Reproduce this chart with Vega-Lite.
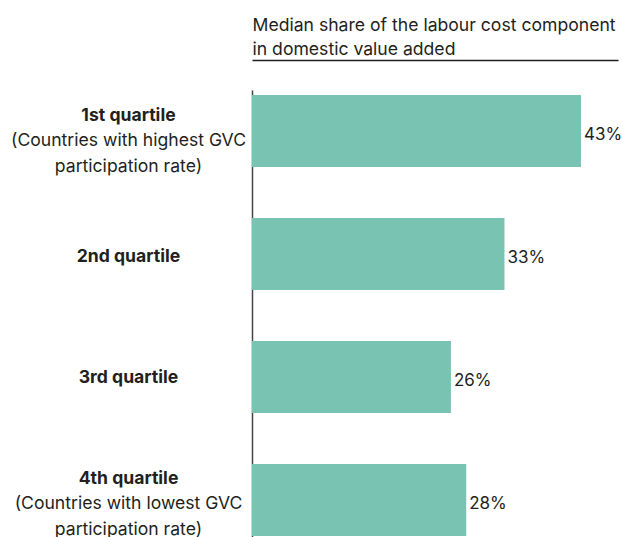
{
  "$schema": "https://vega.github.io/schema/vega-lite/v6.json",
  "width": 366,
  "height": 447,
  "autosize": {"type": "none"},
  "padding": {"left": 252, "top": 90, "right": 5, "bottom": 0},
  "background": "white",
  "config": {"view": {"stroke": null}, "font": "Inter"},
  "data": {
    "values": [
      {"quartile": "1st quartile", "share": 43, "label": "43%"},
      {"quartile": "2nd quartile", "share": 33, "label": "33%"},
      {"quartile": "3rd quartile", "share": 26, "label": "26%"},
      {"quartile": "4th quartile", "share": 28, "label": "28%"}
    ]
  },
  "encoding": {
    "x": {
      "field": "share",
      "type": "quantitative",
      "scale": {"domain": [0, 47.84], "nice": false},
      "axis": {
        "orient": "top",
        "offset": 30,
        "domain": true,
        "domainColor": "#231f20",
        "domainWidth": 1.5,
        "ticks": false,
        "labels": false,
        "grid": false,
        "title": ["Median share of the labour cost component", "in domestic value added"],
        "titleAnchor": "start",
        "titleAlign": "left",
        "titleFontWeight": "normal",
        "titleFontSize": 17.6,
        "titleColor": "#231f20",
        "titleLineHeight": 24,
        "titlePadding": 2
      }
    }
  },
  "layer": [
    {
      "mark": {"type": "bar", "color": "#79c3b3"},
      "encoding": {
        "y": {
          "field": "quartile",
          "type": "nominal",
          "sort": null,
          "scale": {"paddingInner": 0.4146, "paddingOuter": 0.0244, "align": 0.83},
          "axis": {
            "orient": "left",
            "title": null,
            "domain": true,
            "domainColor": "#444444",
            "domainWidth": 1.5,
            "ticks": false,
            "labelAlign": "center",
            "labelBaseline": "middle",
            "labelPadding": 124,
            "labelFontWeight": "bold",
            "labelFontSize": 17.6,
            "labelColor": "#231f20",
            "labelLineHeight": 25.5,
            "labelLimit": 400,
            "labelOffset": {"condition": [{"test": "datum.value == '1st quartile'", "value": -15}, {"test": "datum.value == '4th quartile'", "value": -21}, {"test": "datum.value == '2nd quartile'", "value": 3}], "value": 1},
            "labelExpr": "datum.value == '1st quartile' || datum.value == '4th quartile' ? [datum.value, '', ''] : datum.value"
          }
        }
      }
    },
    {
      "mark": {"type": "text", "align": "left", "baseline": "middle", "dx": 3, "dy": 4, "fontSize": 17, "color": "#231f20"},
      "encoding": {
        "text": {"field": "label"},
        "y": {
          "field": "quartile",
          "type": "nominal",
          "sort": null,
          "axis": {
            "orient": "left",
            "title": null,
            "domain": false,
            "ticks": false,
            "labelAlign": "center",
            "labelBaseline": "middle",
            "labelPadding": 124,
            "labelFontWeight": "normal",
            "labelFontSize": 17.6,
            "labelColor": "#231f20",
            "labelLineHeight": 25.5,
            "labelLimit": 400,
            "labelOffset": {"condition": [{"test": "datum.value == '1st quartile'", "value": -15}, {"test": "datum.value == '4th quartile'", "value": -21}], "value": 1},
            "labelExpr": "datum.value == '1st quartile' ? ['', '(Countries with highest GVC', 'participation rate)'] : datum.value == '4th quartile' ? ['', '(Countries with lowest GVC', 'participation rate)'] : ''"
          }
        }
      }
    }
  ],
  "resolve": {"axis": {"y": "independent"}}
}
